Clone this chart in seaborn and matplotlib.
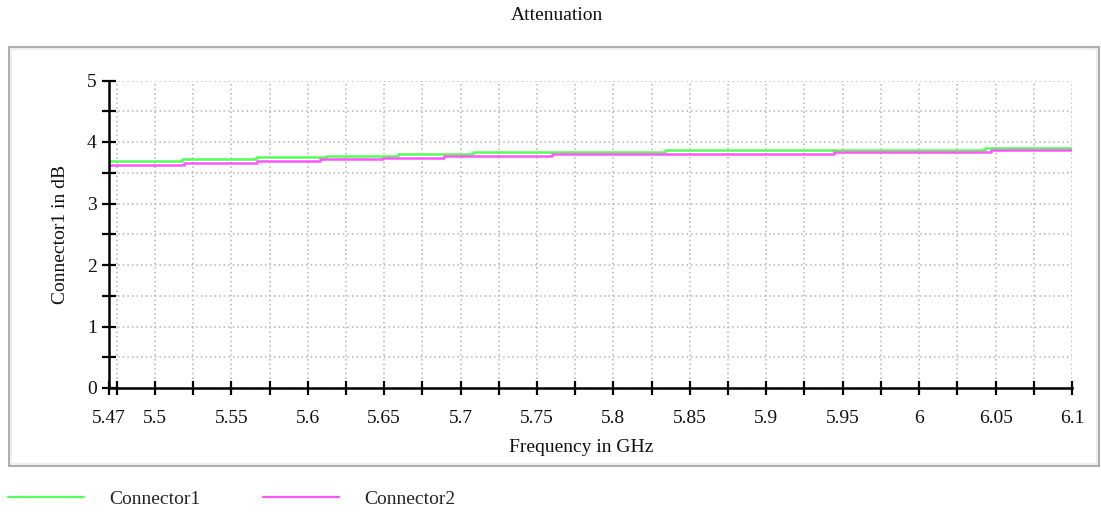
import numpy as np
import pandas as pd
import seaborn as sns
import matplotlib
matplotlib.use("Agg")
import matplotlib.pyplot as plt
from matplotlib.patches import Rectangle
from matplotlib.lines import Line2D
from matplotlib.ticker import FixedLocator, MultipleLocator

# ---- data (step breakpoints) ----
freq_c1 = [5.47, 5.518, 5.566, 5.612, 5.659, 5.708, 5.834, 6.043, 6.1]
att_c1 = [3.69, 3.72, 3.75, 3.78, 3.81, 3.84, 3.87, 3.90, 3.90]
freq_c2 = [5.47, 5.519, 5.567, 5.608, 5.649, 5.689, 5.760, 5.944, 6.047, 6.1]
att_c2 = [3.62, 3.655, 3.69, 3.72, 3.745, 3.78, 3.81, 3.84, 3.87, 3.87]

series_names = ["Connector1", "Connector2"]
series_colors = ["#55ff55", "#ff55ff"]

x_tick_values = [5.47, 5.5, 5.55, 5.6, 5.65, 5.7, 5.75, 5.8, 5.85, 5.9, 5.95, 6.0, 6.05, 6.1]
x_tick_labels = ["5.47", "5.5", "5.55", "5.6", "5.65", "5.7", "5.75", "5.8", "5.85",
                 "5.9", "5.95", "6", "6.05", "6.1"]
y_tick_values = [0, 1, 2, 3, 4, 5]

title = "Attenuation"
x_label = "Frequency in GHz"
y_label = "Connector1 in dB"

df = pd.concat([
    pd.DataFrame({"freq": freq_c1, "att": att_c1, "series": series_names[0]}),
    pd.DataFrame({"freq": freq_c2, "att": att_c2, "series": series_names[1]}),
])

sns.set_theme(style="white")
plt.rcParams["font.family"] = ["Liberation Serif", "DejaVu Serif"]
FS = 14

W, H = 1101, 512
fig = plt.figure(figsize=(W / 100, H / 100), dpi=100)
ax = fig.add_axes([109 / W, 1 - 388 / H, (1072 - 109) / W, (388 - 80.5) / H])
ax.set_facecolor("none")

# frame around the chart
fig.patches.append(Rectangle((9 / W, 1 - 466 / H), 1090 / W, 419 / H,
                             transform=fig.transFigure, fill=False,
                             edgecolor="#a6a6a6", linewidth=1.3, zorder=0))
fig.patches.append(Rectangle((11 / W, 1 - 463.5 / H), 1086 / W, 414.5 / H,
                             transform=fig.transFigure, fill=False,
                             edgecolor="#eeeeee", linewidth=1.5, zorder=0))

sns.lineplot(data=df, x="freq", y="att", hue="series", palette=series_colors,
             drawstyle="steps-post", linewidth=1.8, ax=ax, legend=False,
             estimator=None, sort=False)

ax.set_xlim(5.47, 6.1)
ax.set_ylim(0, 5)

ax.xaxis.set_major_locator(FixedLocator(x_tick_values))
ax.set_xticklabels(x_tick_labels)
ax.xaxis.set_minor_locator(FixedLocator(list(np.arange(5.475, 6.1, 0.05))))
ax.yaxis.set_major_locator(FixedLocator(y_tick_values))
ax.yaxis.set_minor_locator(MultipleLocator(0.5))

ax.grid(True, which="both", color="#b4b4b4", linestyle=(0, (1, 2)), linewidth=1.1)
ax.set_axisbelow(True)

for s in ["top", "right"]:
    ax.spines[s].set_visible(False)
for s in ["left", "bottom"]:
    ax.spines[s].set_color("black")
    ax.spines[s].set_linewidth(1.8)

ax.tick_params(axis="both", which="both", direction="inout", length=9.5, width=1.6,
               color="black", labelsize=FS, labelcolor="#111111",
               bottom=True, left=True, top=False, right=False)
ax.tick_params(axis="x", which="both", pad=11)
ax.tick_params(axis="y", which="both", pad=4)

ax.set_xlabel(x_label, fontsize=FS, color="#111111")
ax.set_ylabel(y_label, fontsize=FS, color="#111111")
ax.xaxis.set_label_coords(0.49, -0.165)
ax.yaxis.set_label_coords(-0.042, 0.5)

fig.text(557 / W, 1 - 15 / H, title, ha="center", va="center", fontsize=FS, color="#111111")

handles = [Line2D([0], [0], color=c, linewidth=1.6) for c in series_colors]
fig.legend(handles, series_names, loc="center left", bbox_to_anchor=(4 / W, 1 - 499 / H),
           ncol=2, frameon=False, fontsize=FS, handlelength=3.9, handletextpad=1.3,
           columnspacing=3.25, borderaxespad=0, borderpad=0.2)

fig.savefig("out.png", dpi=100)
